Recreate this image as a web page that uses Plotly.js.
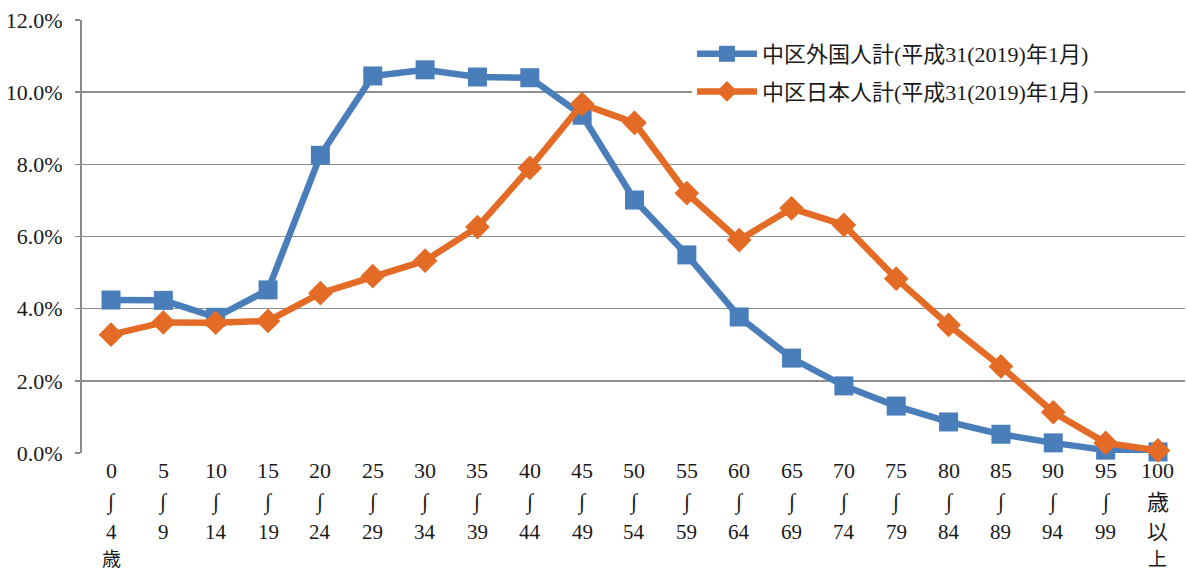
<!DOCTYPE html>
<html>
<head>
<meta charset="utf-8">
<script src="https://cdn.plot.ly/plotly-3.0.1.min.js"></script>
<style>html,body{margin:0;padding:0;background:#fff;}#chart{width:1186px;height:572px;}</style>
</head>
<body>
<div id="chart"></div>
<script>
// Categories (age groups)
const categories = ["0〜4歳","5〜9歳","10〜14歳","15〜19歳","20〜24歳","25〜29歳","30〜34歳","35〜39歳","40〜44歳","45〜49歳","50〜54歳","55〜59歳","60〜64歳","65〜69歳","70〜74歳","75〜79歳","80〜84歳","85〜89歳","90〜94歳","95〜99歳","100歳以上"];
// Tick label rows
const labelRow1 = ["0","5","10","15","20","25","30","35","40","45","50","55","60","65","70","75","80","85","90","95","100"];
const labelRow2 = ["∫","∫","∫","∫","∫","∫","∫","∫","∫","∫","∫","∫","∫","∫","∫","∫","∫","∫","∫","∫","歳"];
const labelRow3 = ["4","9","14","19","24","29","34","39","44","49","54","59","64","69","74","79","84","89","94","99","以"];
const labelRow4 = ["歳","","","","","","","","","","","","","","","","","","","","上"];
// Series (percent)
const foreignName = "中区外国人計(平成31(2019)年1月)";
const foreignValues = [4.24,4.23,3.76,4.52,8.25,10.45,10.62,10.42,10.40,9.36,7.01,5.49,3.77,2.63,1.86,1.30,0.86,0.52,0.28,0.08,0.03];
const japaneseName = "中区日本人計(平成31(2019)年1月)";
const japaneseValues = [3.28,3.62,3.61,3.66,4.43,4.90,5.33,6.26,7.90,9.67,9.15,7.20,5.90,6.78,6.32,4.83,3.55,2.40,1.13,0.28,0.07];
const yTicks = [0,2,4,6,8,10,12];

const FONT = "'Liberation Serif','Noto Sans CJK JP',serif";
const BLUE = "#4a7ebb";
const ORANGE = "#e46b25";
const TEXT = "#1a1a1a";

const traces = [
  {x: categories, y: foreignValues, name: foreignName, type: "scatter", mode: "lines+markers",
   line: {color: BLUE, width: 6.5}, marker: {symbol: "square", size: 19, color: BLUE}, cliponaxis: false, legendgroup: "a"},
  {x: categories, y: japaneseValues, name: japaneseName, type: "scatter", mode: "lines+markers",
   line: {color: ORANGE, width: 6.5}, marker: {symbol: "diamond", size: 19, color: ORANGE}, cliponaxis: false, legendgroup: "b"}
];

const plotTop = 20, plotBottom = 453, plotH = plotBottom - plotTop;
function py(p){ return (plotBottom - p) / plotH; }
const rows = [[labelRow1, 470, 22],[labelRow2, 502, 22],[labelRow3, 532, 21],[labelRow4, 559, 19]];
const annotations = [];
rows.forEach(([arr, ypx, fs]) => {
  arr.forEach((t, i) => {
    if (!t) return;
    annotations.push({x: categories[i], xref: "x", y: py(ypx), yref: "paper", text: t, showarrow: false,
      xanchor: "center", yanchor: "middle", borderpad: 0,
      font: {family: FONT, size: fs, color: TEXT}});
  });
});

const layout = {
  width: 1186, height: 572,
  margin: {l: 82, r: 1, t: plotTop, b: 572 - plotBottom},
  paper_bgcolor: "#fff", plot_bgcolor: "#fff",
  font: {family: FONT, size: 22, color: TEXT},
  showlegend: true,
  legend: {x: 0.553, y: py(33), xanchor: "left", yanchor: "top", bgcolor: "#fff", borderwidth: 0,
    font: {family: FONT, size: 22, color: TEXT}, traceorder: "grouped", tracegroupgap: 6, itemwidth: 60},
  xaxis: {type: "category", range: [-0.554, 20.516], showticklabels: false, showgrid: false, zeroline: false, showline: false, ticks: ""},
  yaxis: {range: [0, 12], tickvals: yTicks, ticktext: yTicks.map(v => v.toFixed(1) + "%"),
    showgrid: true, gridcolor: "#8f8f8f", gridwidth: 1.5, zeroline: false,
    showline: true, linecolor: "#8a8a8a", linewidth: 2, ticks: "outside", ticklen: 5, tickcolor: "#8a8a8a", tickwidth: 1.5,
    tickfont: {family: FONT, size: 22, color: TEXT}, ticklabelstandoff: 8},
  annotations: annotations
};

Plotly.newPlot("chart", traces, layout, {displayModeBar: false, staticPlot: true});
</script>
</body>
</html>
